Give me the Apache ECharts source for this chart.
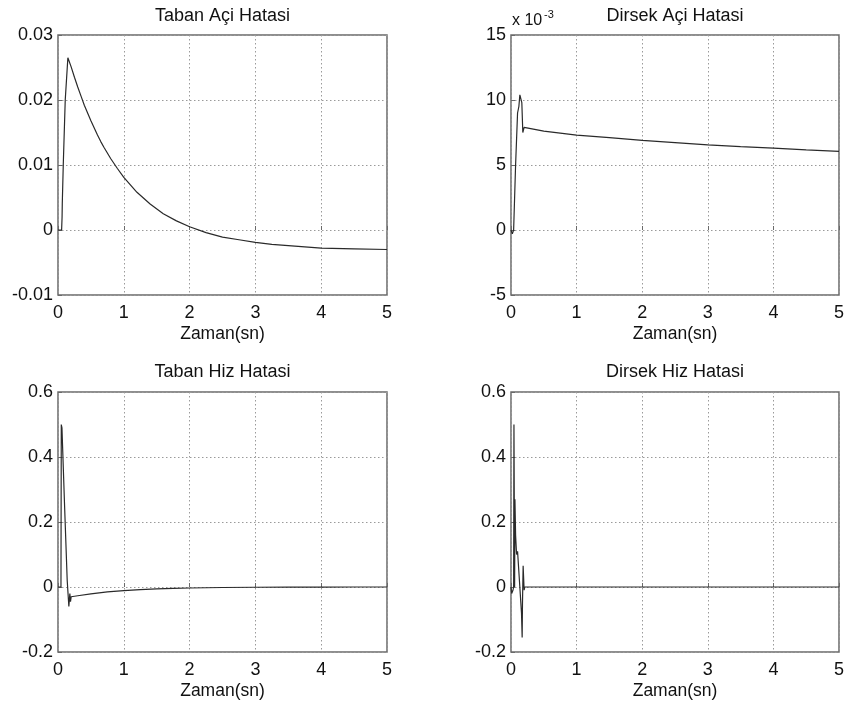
<!DOCTYPE html>
<html>
<head>
<meta charset="utf-8">
<style>
html,body{margin:0;padding:0;background:#fff;}
#c{width:849px;height:704px;}
</style>
<script src="https://cdn.jsdelivr.net/npm/echarts@6/dist/echarts.min.js"></script>
</head>
<body>
<div id="c"></div>
<script>
// ---- Data ----
var titles = ['Taban Açi Hatasi', 'Dirsek Açi Hatasi', 'Taban Hiz Hatasi', 'Dirsek Hiz Hatasi'];
var xName = 'Zaman(sn)';
var xTicks = [0, 1, 2, 3, 4, 5];

// Taban Açi Hatasi (rad)
var tabanAciT = [0, 0.055, 0.062, 0.065, 0.08, 0.11, 0.15, 0.16, 0.2, 0.25, 0.3, 0.35, 0.4, 0.5, 0.6, 0.65, 0.7, 0.8, 0.9, 1.0, 1.2, 1.4, 1.6, 1.8, 2.0, 2.25, 2.5, 2.75, 3.0, 3.25, 3.5, 3.75, 4.0, 4.5, 5.0];
var tabanAciY = [0, 0, 0.002, 0.004, 0.010, 0.020, 0.0265, 0.0268, 0.0251, 0.0235, 0.0220, 0.0206, 0.0192, 0.0168, 0.0146, 0.0136, 0.0127, 0.0110, 0.0095, 0.0081, 0.0058, 0.0040, 0.0025, 0.0014, 0.0005, -0.0004, -0.0011, -0.0015, -0.0019, -0.0022, -0.0024, -0.0026, -0.0028, -0.0029, -0.0030];

// Dirsek Açi Hatasi (x 10^-3 rad)
var dirsekAciT = [0, 0.02, 0.04, 0.07, 0.1, 0.12, 0.135, 0.15, 0.165, 0.18, 0.19, 0.2, 0.3, 0.5, 0.75, 1.0, 1.5, 2.0, 2.5, 3.0, 3.5, 4.0, 4.5, 5.0];
var dirsekAciY = [0, -0.3, 0, 5, 9, 9.5, 10.4, 10.5, 9.8, 7.5, 7.4, 7.9, 7.8, 7.6, 7.45, 7.3, 7.1, 6.9, 6.72, 6.55, 6.42, 6.3, 6.17, 6.05];

// Taban Hiz Hatasi
var tabanHizT = [0, 0.045, 0.05, 0.06, 0.1, 0.14, 0.165, 0.18, 0.19, 0.2, 0.3, 0.5, 0.75, 1.0, 1.25, 1.5, 1.75, 2.0, 2.5, 3.0, 3.5, 4.0, 4.5, 5.0];
var tabanHizY = [0, 0, 0.5, 0.49, 0.25, 0.02, -0.06, -0.02, -0.045, -0.03, -0.027, -0.021, -0.015, -0.011, -0.008, -0.006, -0.004, -0.003, -0.0015, -0.0007, -0.0003, -0.0001, 0, 0];

// Dirsek Hiz Hatasi
var dirsekHizT = [0, 0.01, 0.03, 0.04, 0.045, 0.05, 0.055, 0.06, 0.07, 0.085, 0.1, 0.16, 0.17, 0.175, 0.185, 0.19, 0.2, 0.21, 0.3, 5.0];
var dirsekHizY = [0, -0.02, -0.01, 0, 0.5, 0.5, 0, 0.27, 0.16, 0.1, 0.11, -0.08, -0.155, -0.05, 0.065, 0.06, -0.01, 0, 0, 0];

var yRanges = [
  {min: -0.01, max: 0.03, interval: 0.01},
  {min: -5, max: 15, interval: 5},
  {min: -0.2, max: 0.6, interval: 0.2},
  {min: -0.2, max: 0.6, interval: 0.2}
];

function pairs(t, y) { return t.map(function (v, i) { return [v, y[i]]; }); }
var seriesData = [
  pairs(tabanAciT, tabanAciY),
  pairs(dirsekAciT, dirsekAciY),
  pairs(tabanHizT, tabanHizY),
  pairs(dirsekHizT, dirsekHizY)
];

// ---- Layout ----
var FONT = '"Liberation Sans", Arial, Helvetica, sans-serif';
var boxes = [
  {left: 58, top: 35, width: 329, height: 260},
  {left: 511, top: 35, width: 328, height: 260},
  {left: 58, top: 392, width: 329, height: 260},
  {left: 511, top: 392, width: 328, height: 260}
];

function fmtY(v) {
  return (Math.round(v * 1000) / 1000).toString();
}

var grids = [], xAxes = [], yAxes = [], series = [], graphics = [];
boxes.forEach(function (b, i) {
  grids.push({left: b.left, top: b.top, width: b.width, height: b.height,
    show: true, borderColor: '#6a6a6a', borderWidth: 1.5, backgroundColor: '#fff'});
  xAxes.push({
    type: 'value', gridIndex: i, min: 0, max: 5, interval: 1,
    name: xName, nameLocation: 'middle', nameGap: 30,
    nameTextStyle: {fontFamily: FONT, fontSize: 17.5, color: '#111'},
    axisLine: {show: false},
    axisTick: {show: true, inside: true, length: 4, lineStyle: {color: '#6a6a6a'}},
    axisLabel: {fontFamily: FONT, fontSize: 18, color: '#111', margin: 9,
      formatter: function (v) { return xTicks.indexOf(v) >= 0 ? String(v) : ''; }},
    splitLine: {show: true, lineStyle: {color: '#9a9a9a', type: [1.5, 2.5], width: 1}}
  });
  yAxes.push({
    type: 'value', gridIndex: i, min: yRanges[i].min, max: yRanges[i].max, interval: yRanges[i].interval,
    axisLine: {show: false},
    axisTick: {show: true, inside: true, length: 4, lineStyle: {color: '#6a6a6a'}},
    axisLabel: {fontFamily: FONT, fontSize: 18, color: '#111', margin: 5, formatter: fmtY},
    splitLine: {show: true, lineStyle: {color: '#9a9a9a', type: [1.5, 2.5], width: 1}}
  });
  series.push({
    type: 'line', xAxisIndex: i, yAxisIndex: i, data: seriesData[i],
    showSymbol: false, symbol: 'none', animation: false,
    lineStyle: {color: '#2a2a2a', width: 1.2}
  });
  graphics.push({
    type: 'text', x: b.left + b.width / 2, y: (i < 2 ? 16 : 372),
    style: {text: titles[i], font: '18px ' + FONT, fill: '#111', textAlign: 'center', textVerticalAlign: 'middle'}
  });
});

graphics.push({type: 'text', x: 512, y: 21,
  style: {text: 'x 10', font: '16px ' + FONT, fill: '#111', textAlign: 'left', textVerticalAlign: 'middle'}});
graphics.push({type: 'text', x: 544, y: 15,
  style: {text: '-3', font: '11px ' + FONT, fill: '#111', textAlign: 'left', textVerticalAlign: 'middle'}});

var chart = echarts.init(document.getElementById('c'), null, {renderer: 'canvas'});
chart.setOption({
  animation: false,
  backgroundColor: '#fff',
  grid: grids, xAxis: xAxes, yAxis: yAxes, series: series,
  graphic: graphics
});
</script>
</body>
</html>
